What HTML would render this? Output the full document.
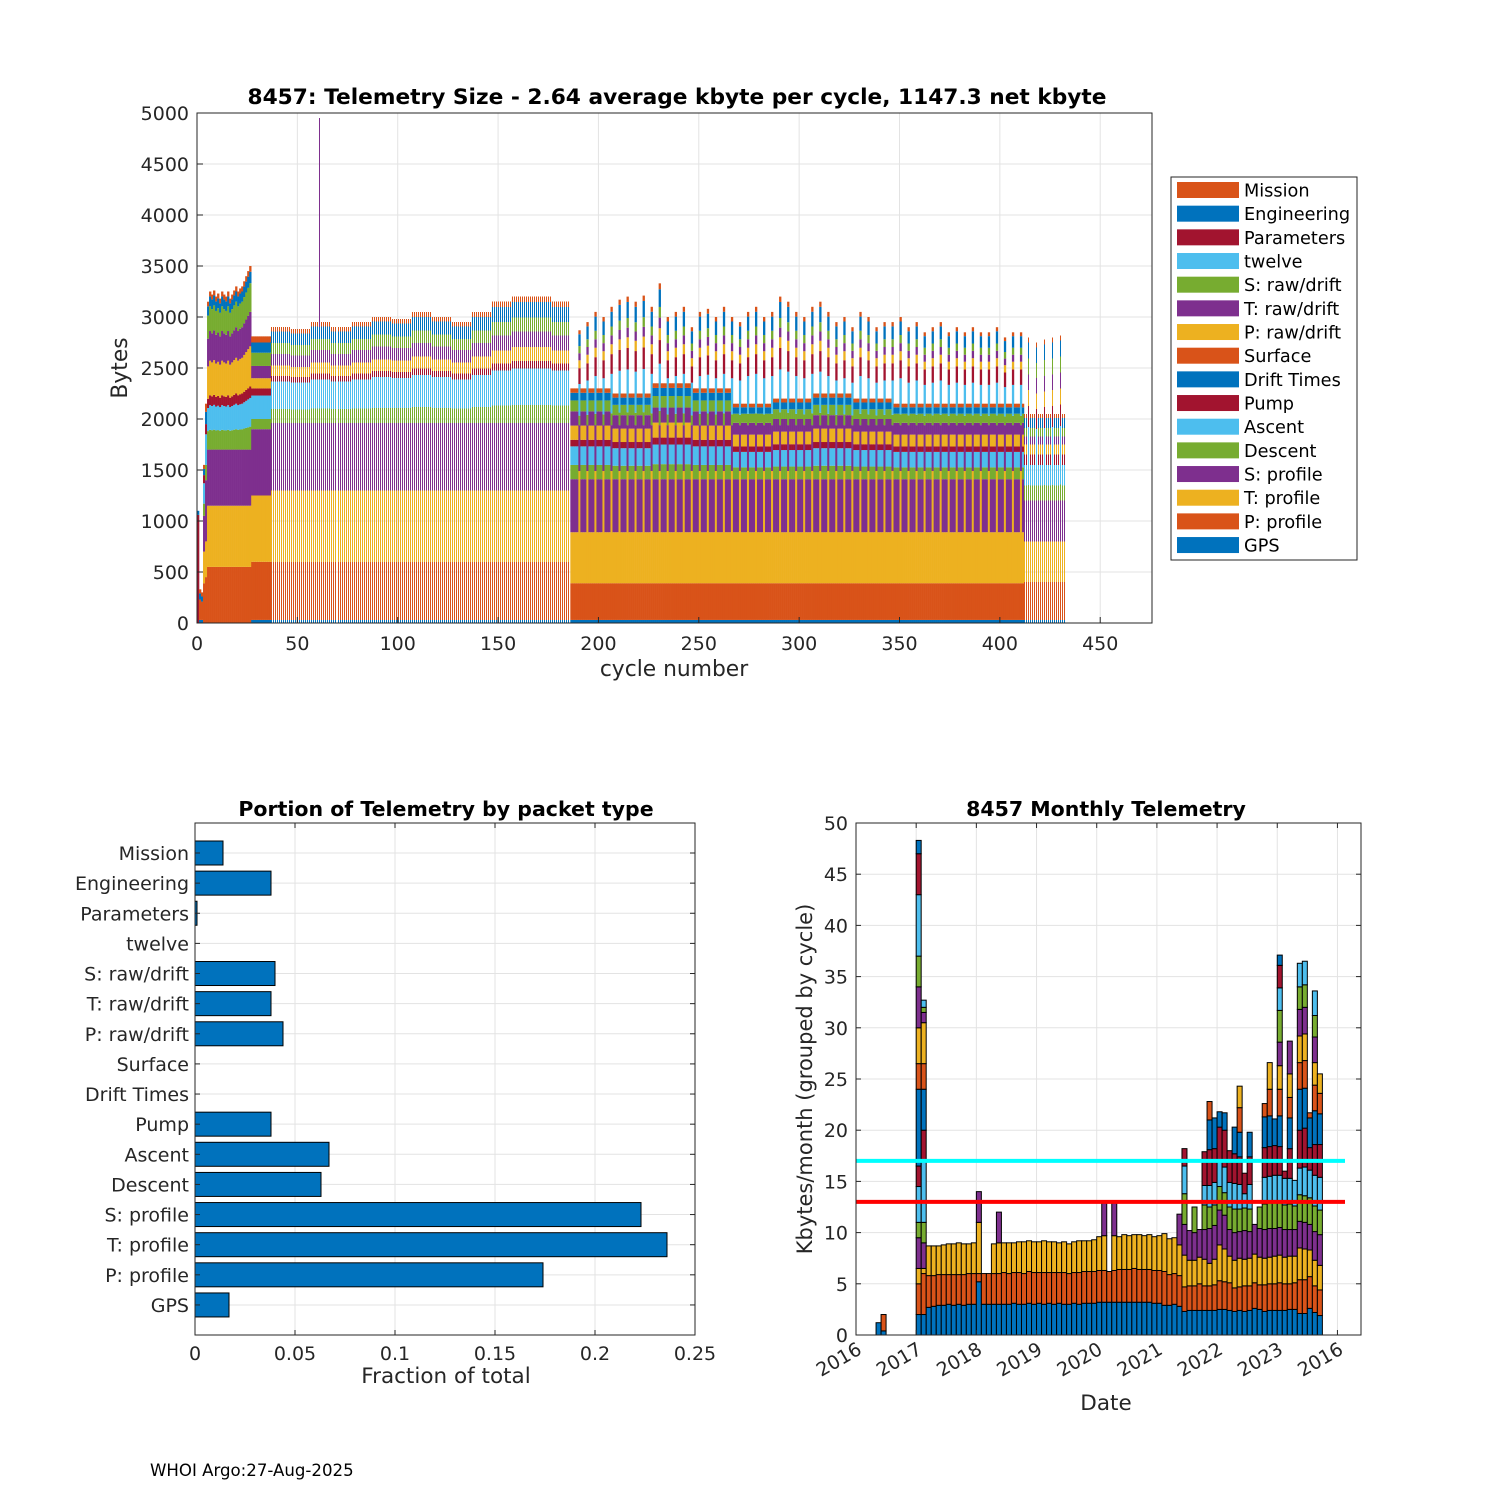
<!DOCTYPE html>
<html><head><meta charset="utf-8"><style>
body{margin:0;background:#fff}
svg{display:block;font-family:"DejaVu Sans","Liberation Sans",sans-serif}
</style></head><body>
<svg id="root" width="1500" height="1500" viewBox="0 0 1500 1500" xmlns="http://www.w3.org/2000/svg">
<rect width="1500" height="1500" fill="#fff"/>
<g id="top"></g>
<g id="bl"></g>
<g id="br"></g>
<text x="150" y="1476" font-size="16.6">WHOI Argo:27-Aug-2025</text>
</svg>
<script>
const SERIES=['GPS','P: profile','T: profile','S: profile','Descent','Ascent','Pump','Drift Times','Surface','P: raw/drift','T: raw/drift','S: raw/drift','twelve','Parameters','Engineering','Mission'];
const PAL=['#0072BD','#D95319','#EDB120','#7E2F8E','#77AC30','#4DBEEE','#A2142F'];
// top chart: per-regime segment sizes (bytes) in SERIES order
const earlyCycles=[
 [0,0,0,0,0,0,1060,0,0,0,0,0,0,0,40,0],
 [30,200,0,0,0,0,0,0,0,0,0,0,0,0,60,40],
 [30,180,0,0,0,0,0,0,0,0,0,0,0,0,50,40],
 [0,390,310,350,120,200,80,0,0,0,0,0,0,0,60,40],
 [0,450,350,600,150,300,100,0,0,0,0,0,0,0,120,80]];
const regimeA=[0,550,600,550,200,250,100,0,0,350,300,250,0,0,100,50];
const regimeATotals=[3150,3250,3220,3260,3200,3230,3180,3250,3220,3200,3250,3180,3220,3260,3300,3250,3280,3300,3350,3400,3450,3500];
const regimeB=[30,570,650,650,100,230,70,0,0,100,120,130,0,0,100,60];
const regimeM=[30,570,700,660,130,260,50,0,0,100,110,100,0,0,110,40];
const midBlockTotals=[2900,2880,2950,2900,2950,3000,2980,3050,3000,2950,3050,3150,3200,3200,3150];
const regimeN=[30,360,500,520,130,170,60,0,0,130,130,100,0,0,70,40];
const regimeS=[30,360,1100,450,120,400,200,0,0,100,90,90,0,0,150,50];
const normBlockTotals=[2300,2250,2350,2300,2150,2200,2250,2200,2150,2150,2150,2150];
const spikeTotals=[2870,2950,3050,3000,3100,3170,3200,3150,3210,3100,3330,3000,3050,3100,2900,3050,3080,3000,3100,3000,2950,3050,3100,3000,3050,3200,3150,3050,3000,3100,3150,3050,2950,3000,2900,3050,3000,2900,2950,2950,3000,2900,2950,2850,2900,2950,2850,2900,2850,2900,2850,2850,2900,2800,2850,2850];
const regimeLN=[30,370,400,400,150,200,100,0,0,100,80,80,0,0,100,40];
const regimeLS=[30,370,400,400,150,550,200,0,0,150,150,150,0,0,150,50];
const lateSpikeTotals=[2800,2750,2780,2800,2820];
const outlierCycle=61, outlierTop=4950;
const yTicksTop=[0,500,1000,1500,2000,2500,3000,3500,4000,4500,5000];
const xTicksTop=[0,50,100,150,200,250,300,350,400,450];
// bottom-left
const fractions=[0.014,0.038,0.001,0,0.040,0.038,0.044,0,0,0.038,0.067,0.063,0.223,0.236,0.174,0.017];
const fracLabels=['Mission','Engineering','Parameters','twelve','S: raw/drift','T: raw/drift','P: raw/drift','Surface','Drift Times','Pump','Ascent','Descent','S: profile','T: profile','P: profile','GPS'];
const fracTicks=[0,0.05,0.1,0.15,0.2,0.25];
const fracTickLabels=['0','0.05','0.1','0.15','0.2','0.25'];
// bottom-right: month index since 2016-01 and stacked kbyte segments
const monthIdx=[4,5,12,13,14,15,16,17,18,19,20,21,22,23,24,25,26,27,28,29,30,31,32,33,34,35,36,37,38,39,40,41,42,43,44,45,46,47,48,49,50,51,52,53,54,55,56,57,58,59,60,61,62,63,64,65,66,67,68,69,70,71,72,73,74,75,76,77,78,79,80,81,82,83,84,85,86,87,88,89,90,91,92];
const monthSegs=[[1.2],[0.4,1.6],
[2,3,1.5,3,1.5,3.5,2,7.5,2.5,3.5,4,3,6,4,1.3],
[2,4,0.5,2.5,2,6,3,4,2.5,4,1,0.5,0.7],
[2.7,3.1,2.9],[2.8,3.0,2.9],[2.9,3.0,2.8],[2.9,3.0,2.9],[3.0,2.9,3.0],[2.9,3.0,3.0],[3.0,2.9,3.1],[2.9,3.0,3.0],[3.0,3.0,2.9],[3.0,3.0,3.0],
[5.2,0.8,5.0,3.0],[3.0,3.0],[3.0,3.0],[3.0,3.0,2.9],[3.0,3.0,3.0,3.0],
[3.0,3.1,2.9],[3.0,3.0,3.0],[3.1,3.0,2.9],[3.0,3.1,3.0],[3.0,3.0,3.1],[3.1,3.1,3.0],[3.0,3.1,3.0],[3.1,3.0,3.0],[3.0,3.1,3.1],[3.1,3.0,3.0],
[3.0,3.1,3.0],[3.1,3.0,2.9],[3.0,3.1,3.0],[3.0,3.0,2.9],[3.1,3.0,3.0],[3.0,3.1,3.1],[3.1,3.1,3.0],[3.1,3.1,3.0],[3.1,3.1,3.1],
[3.2,3.1,3.3],[3.2,3.1,3.4,3.3],[3.2,3.0],[3.2,3.1,3.4,3.3],[3.2,3.2,3.2],[3.2,3.2,3.4],[3.2,3.2,3.3],[3.2,3.3,3.3],[3.2,3.2,3.4],[3.2,3.2,3.3],[3.2,3.2,3.4],[3.1,3.2,3.3],[3.1,3.2,3.4],
[2.9,3.3,3.7],[2.9,3.0,3.5],[3.0,3.0,3.5],
[2.8,3.0,3.0,3.0],[2.3,2.4,3.1,3.0,3.0,2.7,1.7],[2.4,2.4,2.5,2.9],[2.4,2.4,2.5,2.7,2.5],[2.4,2.6,2.6,2.7],
[2.4,2.4,2.6,2.9,2.4,1.9,3.3],[2.4,2.4,2.2,3.4,2.1,2.1,3.5,2.9,1.8],[2.4,2.5,2.5,3.3,2.0,2.2,3.3,3.0],[2.5,2.8,3.5,3.4,2.3,2.4,3.4,1.5],[2.5,2.7,3.2,3.3,2.2,2.5,3.6,1.7],
[2.4,2.7,2.6,2.6,2.2,2.4,3.1],[2.3,2.3,2.7,2.7,2.3,2.5,2.9,2.6],[2.4,2.3,2.8,2.6,2.2,2.4,2.7,2.4,2.4,2.1],[2.3,2.5,2.6,2.8,2.2,1.4,2.0],[2.4,2.4,2.7,2.6,2.2,2.4,2.7,2.4],
[2.6,2.5,2.8,2.9],[2.5,2.4,2.7,2.8,2.1],[2.3,2.6,2.6,2.8,2.5,2.6,2.9,3.0,1.3],[2.4,2.6,2.6,2.8,2.5,2.6,2.9,3.0,2.6,2.6],[2.4,2.6,2.7,2.7,2.5,2.7,2.9,2.6],
[2.4,2.7,2.7,2.7,2.5,2.6,2.8,3.0,2.6,2.3,2.3,3.1,2.2,2.2,1.0],[2.4,2.6,2.6,2.7,2.4,2.6,0.7],[2.5,2.5,2.7,2.6,2.5,2.5,2.9,3.0,2.0,2.3,3.2],[2.5,2.6,2.6,2.6,2.3,2.5],
[2.1,3.3,3.1,2.6,2.6,2.6,3.7,4.0,2.6,2.6,2.6,2.2,2.3],[2.1,3.3,3.0,2.6,2.6,2.8,3.8,3.9,2.7,2.6,2.6,2.2,2.3],[2.6,3.1,2.6,2.5,2.6,2.7,2.2,2.9,0.5],
[2.2,2.6,2.5,2.8,2.5,3.0,3.0,3.3,2.5,2.2,2.5,2.1,2.4],[1.9,2.5,2.4,3.0,2.4,3.2,3.2,3.0,2.0,1.9]];
const yTicksM=[0,5,10,15,20,25,30,35,40,45,50];
const yearTickMonths=[0,12,24,36,48,60,72,84,96];
const yearTickLabels=['2016','2017','2018','2019','2020','2021','2022','2023','2016'];
const refLines=[17,13];
const refColors=['#00FFFF','#FF0000'];

const NS='http://www.w3.org/2000/svg';
function mk(tag,attrs,parent,txt){const e=document.createElementNS(NS,tag);for(const k in attrs)e.setAttribute(k,attrs[k]);if(txt!==undefined)e.textContent=txt;parent.appendChild(e);return e;}
const TF=19;

// ---------- TOP CHART ----------
(function(){
const g=document.getElementById('top');
const X0=197,X1=1152,Y0=623,Y1=113;
const xT=c=>X0+c*(X1-X0)/475.8;
const yT=v=>Y0-v*(Y0-Y1)/5000;
yTicksTop.forEach(t=>{const l=mk('line',{x1:X0,x2:X1,y1:yT(t),y2:yT(t),stroke:'#e3e3e3','stroke-width':1},g);});
xTicksTop.forEach(t=>{const l=mk('line',{x1:xT(t),x2:xT(t),y1:Y0,y2:Y1,stroke:'#e3e3e3','stroke-width':1},g);});
function scaled(base,total){const lower=base.slice(0,4).reduce((a,b)=>a+b,0);const upper=base.slice(4).reduce((a,b)=>a+b,0);const f=upper>0?(total-lower)/upper:1;return base.map((v,i)=>i<4?v:v*f);}
function segsFor(c){
 if(c<5)return {s:earlyCycles[c],w:1};
 if(c<27)return {s:scaled(regimeA,regimeATotals[c-5]),w:1};
 if(c<37)return {s:regimeB,w:1};
 if(c<186)return {s:scaled(regimeM,midBlockTotals[Math.floor((c-37)/10)]),w:0};
 if(c<412){if((c-190)%4===0&&c>=190)return {s:scaled(regimeS,spikeTotals[(c-190)/4]),w:1};return {s:scaled(regimeN,normBlockTotals[Math.floor((c-186)/20)]),w:1};}
 if((c-414)%4===0&&c>=414)return {s:scaled(regimeLS,lateSpikeTotals[(c-414)/4]),w:0};
 return {s:regimeLN,w:0};
}
const bw=(X1-X0)/475.8;
for(let c=0;c<=432;c++){
 const d=segsFor(c);let acc=0;
 const bar=mk('g',{},g);
 const narrow=d.w===0;
 if(narrow)bar.setAttribute('shape-rendering','crispEdges');
 const bx=narrow?Math.round(xT(c)):xT(c);
 const bwid=narrow?1:bw+0.3;
 d.s.forEach((v,i)=>{if(v<=0)return;const r=mk('rect',{x:bx,y:yT(acc+v),width:bwid,height:yT(acc)-yT(acc+v),fill:PAL[i%7]},bar);acc+=v;});
}
const o=mk('rect',{x:Math.round(xT(outlierCycle)),y:yT(outlierTop),width:1,height:yT(2900)-yT(outlierTop),fill:'#7E2F8E','shape-rendering':'crispEdges'},g);
const ax=mk('rect',{x:X0,y:Y1,width:X1-X0,height:Y0-Y1,fill:'none',stroke:'#262626','stroke-width':1},g);
yTicksTop.forEach(t=>{const tk=mk('line',{x1:X0,x2:X0+6,y1:yT(t),y2:yT(t),stroke:'#262626'},g);
 const tl=mk('text',{x:X0-8,y:yT(t)+7,'font-size':TF,'text-anchor':'end',fill:'#262626'},g,String(t));});
xTicksTop.forEach(t=>{const tk=mk('line',{x1:xT(t),x2:xT(t),y1:Y0,y2:Y0-6,stroke:'#262626'},g);
 const tl=mk('text',{x:xT(t),y:Y0+27,'font-size':TF,'text-anchor':'middle',fill:'#262626'},g,String(t));});
const ti=mk('text',{x:677,y:104,'font-size':21.7,'font-weight':'bold','text-anchor':'middle'},g,'8457: Telemetry Size - 2.64 average kbyte per cycle, 1147.3 net kbyte');
const xl=mk('text',{x:674,y:676,'font-size':21.8,'text-anchor':'middle',fill:'#262626'},g,'cycle number');
const yl=mk('text',{x:0,y:0,'font-size':21.8,'text-anchor':'middle',fill:'#262626',transform:'translate(127,368) rotate(-90)'},g,'Bytes');
// legend
const lg=mk('g',{},g);
mk('rect',{x:1171,y:177,width:186,height:383,fill:'#fff',stroke:'#262626','stroke-width':1},lg);
const order=SERIES.slice().reverse();
order.forEach((n,k)=>{const i=SERIES.indexOf(n);const cy=190+k*23.67;
 const e=mk('g',{},lg);
 mk('rect',{x:1177,y:cy-8,width:62,height:16,fill:PAL[i%7]},e);
 mk('text',{x:1244,y:cy+6.5,'font-size':17.7,fill:'#000'},e,n);});
})();

// ---------- BOTTOM LEFT ----------
(function(){
const g=document.getElementById('bl');
const X0=195,X1=695,Y0=1335,Y1=823;
const xF=v=>X0+v/0.25*(X1-X0);
const yR=i=>853+i*30.13;
fracTicks.forEach(t=>{const l=mk('line',{x1:xF(t),x2:xF(t),y1:Y1,y2:Y0,stroke:'#e3e3e3'},g);});
fracLabels.forEach((n,i)=>{const l=mk('line',{x1:X0,x2:X1,y1:yR(i),y2:yR(i),stroke:'#e3e3e3'},g);});
fractions.forEach((v,i)=>{if(v<=0)return;const b=mk('rect',{x:X0,y:yR(i)-12,width:xF(v)-X0,height:24,fill:'#0072BD',stroke:'#000','stroke-width':1},g);});
const ax=mk('rect',{x:X0,y:Y1,width:X1-X0,height:Y0-Y1,fill:'none',stroke:'#262626'},g);
fracLabels.forEach((n,i)=>{mk('line',{x1:X0,x2:X0+5,y1:yR(i),y2:yR(i),stroke:'#262626'},g);mk('line',{x1:X1,x2:X1-5,y1:yR(i),y2:yR(i),stroke:'#262626'},g);
 const t=mk('text',{x:X0-6,y:yR(i)+7,'font-size':TF,'text-anchor':'end',fill:'#262626'},g,n);});
fracTicks.forEach((t,k)=>{mk('line',{x1:xF(t),x2:xF(t),y1:Y0,y2:Y0-5,stroke:'#262626'},g);mk('line',{x1:xF(t),x2:xF(t),y1:Y1,y2:Y1+5,stroke:'#262626'},g);
 const tl=mk('text',{x:xF(t),y:Y0+25,'font-size':TF,'text-anchor':'middle',fill:'#262626'},g,fracTickLabels[k]);});
const ti=mk('text',{x:446,y:816,'font-size':20.5,'font-weight':'bold','text-anchor':'middle'},g,'Portion of Telemetry by packet type');
const xl=mk('text',{x:446,y:1383,'font-size':21.5,'text-anchor':'middle',fill:'#262626'},g,'Fraction of total');
})();

// ---------- BOTTOM RIGHT ----------
(function(){
const g=document.getElementById('br');
const X0=856,X1=1361,Y0=1335,Y1=823;
const xM=m=>X0+m*5.015;
const yM=v=>Y0-v*(Y0-Y1)/50;
yTicksM.forEach(t=>{const l=mk('line',{x1:X0,x2:X1,y1:yM(t),y2:yM(t),stroke:'#e3e3e3'},g);});
yearTickMonths.forEach(m=>{const l=mk('line',{x1:xM(m),x2:xM(m),y1:Y0,y2:Y1,stroke:'#e3e3e3'},g);});
monthIdx.forEach((m,j)=>{let acc=0;const bar=mk('g',{},g);
 monthSegs[j].forEach((v,i)=>{const r=mk('rect',{x:xM(m),y:yM(acc+v),width:5,height:yM(acc)-yM(acc+v),fill:PAL[i%7],stroke:'#000','stroke-width':1},bar);acc+=v;});});
refLines.forEach((v,k)=>{const l=mk('line',{x1:X0,x2:X0+489,y1:yM(v),y2:yM(v),stroke:refColors[k],'stroke-width':4},g);});
const ax=mk('rect',{x:X0,y:Y1,width:X1-X0,height:Y0-Y1,fill:'none',stroke:'#262626'},g);
yTicksM.forEach(t=>{mk('line',{x1:X0,x2:X0+5,y1:yM(t),y2:yM(t),stroke:'#262626'},g);mk('line',{x1:X1,x2:X1-5,y1:yM(t),y2:yM(t),stroke:'#262626'},g);
 const tl=mk('text',{x:X0-8,y:yM(t)+7,'font-size':TF,'text-anchor':'end',fill:'#262626'},g,String(t));});
yearTickMonths.forEach((m,k)=>{mk('line',{x1:xM(m),x2:xM(m),y1:Y0,y2:Y0-5,stroke:'#262626'},g);mk('line',{x1:xM(m),x2:xM(m),y1:Y1,y2:Y1+5,stroke:'#262626'},g);
 const tl=mk('text',{x:0,y:0,'font-size':TF,'text-anchor':'end',fill:'#262626',transform:`translate(${xM(m)+7},${Y0+18}) rotate(-30)`},g,yearTickLabels[k]);});
const ti=mk('text',{x:1106,y:816,'font-size':20.5,'font-weight':'bold','text-anchor':'middle'},g,'8457 Monthly Telemetry');
const xl=mk('text',{x:1106,y:1410,'font-size':21.5,'text-anchor':'middle',fill:'#262626'},g,'Date');
const yl=mk('text',{x:0,y:0,'font-size':21,'text-anchor':'middle',fill:'#262626',transform:'translate(812,1079) rotate(-90)'},g,'Kbytes/month (grouped by cycle)');
})();
</script>
</body></html>
